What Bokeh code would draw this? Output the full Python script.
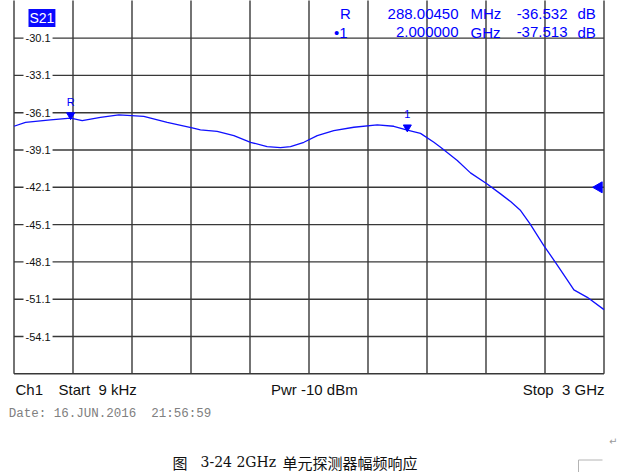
import math
from bokeh.plotting import figure
from bokeh.models import Range1d, Label, ColumnDataSource
from bokeh.embed import file_html
from bokeh.resources import INLINE
from bokeh.core.properties import value

# ---------------- data ----------------
start_freq_mhz = 0.009
stop_freq_mhz = 3000.0
n_div = 10
ref_level_db = -42.1
db_per_div = 3.0
ytick_values = [-30.1, -33.1, -36.1, -39.1, -42.1, -45.1, -48.1, -51.1, -54.1]
ytick_labels = ["-30.1", "-33.1", "-36.1", "-39.1", "-42.1", "-45.1", "-48.1", "-51.1", "-54.1"]

freq_mhz = [0.009, 58.5, 185.6, 288.0, 346.8, 439.8, 532.9, 575.6, 660.0, 779.0,
            906.0, 948.0, 1033.0, 1118.0, 1203.0, 1287.0, 1355.0, 1406.0, 1474.0,
            1542.0, 1626.0, 1728.0, 1847.0, 1931.0, 2000.0, 2067.0, 2135.0, 2169.0,
            2254.0, 2321.0, 2406.0, 2474.0, 2525.0, 2576.0, 2624.0, 2694.0, 2753.0,
            2813.0, 2847.0, 2915.0, 3000.0]
s21_db = [-37.19, -36.87, -36.68, -36.53, -36.74, -36.47, -36.28, -36.31, -36.39, -36.87,
          -37.32, -37.48, -37.60, -37.94, -38.48, -38.83, -38.91, -38.83, -38.48,
          -37.94, -37.54, -37.27, -37.08, -37.19, -37.51, -37.76, -38.48, -38.88,
          -39.94, -40.94, -41.83, -42.63, -43.25, -43.97, -45.04, -46.79, -48.13,
          -49.55, -50.35, -50.95, -51.94]

marker_names = ["R", "1"]
marker_freq_mhz = [288.0045, 2000.0]
marker_db = [-36.532, -37.513]

NB = "\u00a0"
bottom_left = ["Ch1", "Start" + NB + NB + "9 kHz"]
bottom_center = "Pwr -10 dBm"
bottom_right = "Stop" + NB + NB + "3 GHz"
date_text = "Date: 16.JUN.2016" + NB + NB + "21:56:59"
caption_fig = "图"
caption_num = "3-24 2GHz"
caption_txt = "单元探测器幅频响应"

# ---------------- geometry (page pixels) ----------------
W, H = 621, 472
GRID_L, GRID_R = 13.5, 603.5      # screen x of start / stop
GRID_BOTTOM = 373.3               # screen y of lowest grid line
px_per_div_y = 37.3

y_bottom = ytick_values[-1] - db_per_div
mhz_per_px = (stop_freq_mhz - start_freq_mhz) / (GRID_R - GRID_L)
db_per_px = db_per_div / px_per_div_y

def dx(px):
    return start_freq_mhz + (px - GRID_L) * mhz_per_px

def dy(py):
    return y_bottom + (GRID_BOTTOM - py) * db_per_px

p = figure(width=W, height=H, output_backend="svg", toolbar_location=None,
           x_range=Range1d(dx(0), dx(W)), y_range=Range1d(dy(H), dy(0)),
           x_axis_location=None, y_axis_location=None,
           min_border_left=0, min_border_right=0, min_border_top=0, min_border_bottom=0)
p.outline_line_color = None
p.grid.visible = False
p.background_fill_color = "white"
p.border_fill_color = "white"

# graticule
grid_col = "#383838"
xt = [start_freq_mhz + i * (stop_freq_mhz - start_freq_mhz) / n_div for i in range(n_div + 1)]
yl = ytick_values + [y_bottom]
y_top = dy(-2)
p.segment(x0=xt, y0=[y_bottom] * len(xt), x1=xt, y1=[y_top] * len(xt),
          line_color=grid_col, line_width=1.4)
p.segment(x0=[start_freq_mhz] * len(yl), y0=yl, x1=[stop_freq_mhz] * len(yl), y1=yl,
          line_color=grid_col, line_width=1.4)

# y tick labels (inside grid, white background)
for v, t in zip(ytick_values, ytick_labels):
    p.add_layout(Label(x=dx(23), y=v, text=t, text_font="Liberation Sans",
                       text_font_size="11px", text_color="#111111",
                       text_align="left", text_baseline="middle",
                       background_fill_color="white", padding=2))

# trace
blue = "#0000ff"
p.line(freq_mhz, s21_db, line_color="#1010ff", line_width=1.3)

# markers
msrc = ColumnDataSource(dict(x=marker_freq_mhz, y=[v + 3 * db_per_px for v in marker_db],
                             yt=marker_db, name=marker_names))
p.scatter("x", "y", source=msrc, marker="inverted_triangle", size=8,
          fill_color=blue, line_color=blue)
p.text("x", "yt", text="name", source=msrc, y_offset=-16, text_align="center",
       text_baseline="middle", text_font=value("Liberation Sans"),
       text_font_size="11px", text_color=blue)

# reference level marker at right edge
p.scatter([stop_freq_mhz - 5 * mhz_per_px], [ref_level_db], marker="triangle",
          angle=math.pi / 2, size=11, fill_color=blue, line_color=blue)

# S21 badge
p.add_layout(Label(x=dx(28), y=dy(17.5), text="S21", text_font="Liberation Sans",
                   text_font_size="14px", text_color="white", text_align="left",
                   text_baseline="middle", background_fill_color="#0a0aff", padding=1))

def lab(x, y, t, align, color=blue, size="15px", font="Liberation Sans"):
    p.add_layout(Label(x=x, y=y, text=t, text_font=font, text_font_size=size,
                       text_color=color, text_align=align, text_baseline="middle"))

# marker readouts (y = vertical centre of the text line)
rows = [
    ("R", f"{marker_freq_mhz[0]:.5f}", "MHz", f"{marker_db[0]:.3f}", 13.0, 345, "center"),
    ("\u2022" + marker_names[1], f"{marker_freq_mhz[1] / 1000:.6f}", "GHz", f"{marker_db[1]:.3f}", 31.5, 347, "right"),
]
for name, fstr, unit, vstr, mid, nx, na in rows:
    lab(dx(nx), dy(mid), name, na)
    lab(dx(458), dy(mid), fstr, "right")
    lab(dx(470), dy(mid), unit, "left")
    lab(dx(567), dy(mid), vstr, "right")
    lab(dx(577), dy(mid), "dB", "left")

# bottom annotation line
black = "#111111"
lab(dx(15), dy(388.5), bottom_left[0], "left", black)
lab(dx(58), dy(388.5), bottom_left[1], "left", black)
lab(dx(313.8), dy(388.5), bottom_center, "center", black)
lab(dx(604), dy(388.5), bottom_right, "right", black)

# date
lab(dx(8.3), dy(413.5), date_text, "left", "#808080", "12.5px", "Liberation Mono")
# paragraph mark
lab(dx(617), dy(441), "\u21b5", "right", "#9a9a9a", "10px", "DejaVu Sans")

# caption
lab(dx(172), dy(461.5), caption_fig, "left", "#111111", "15px", "Noto Sans CJK SC")
lab(dx(200), dy(461.5), caption_num, "left", "#111111", "14px", "DejaVu Serif")
lab(dx(282), dy(461.5), caption_txt, "left", "#111111", "15px", "Noto Sans CJK SC")

# text-box corner of the source document (light grey)
p.segment(x0=[dx(578), dx(578)], y0=[dy(459.5), dy(459.5)],
          x1=[dx(602), dx(578)], y1=[dy(459.5), dy(474)],
          line_color="#b4b4b4", line_width=1)

open("out.html", "w").write(file_html(p, INLINE))
